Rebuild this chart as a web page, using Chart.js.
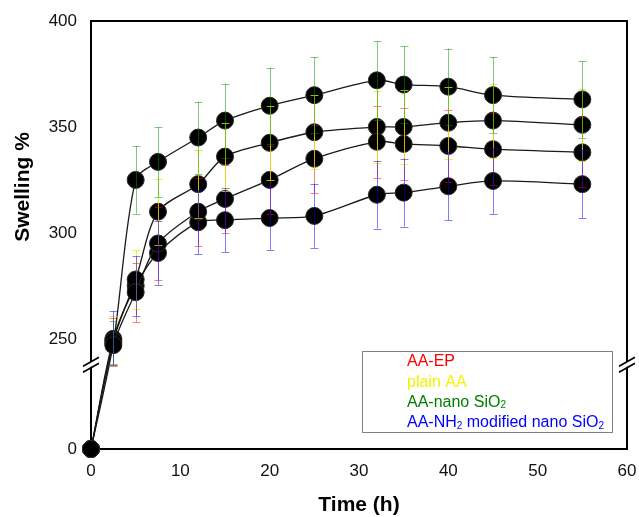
<!DOCTYPE html>
<html>
<head>
<meta charset="utf-8">
<script src="https://cdn.jsdelivr.net/npm/chart.js@4.4.1/dist/chart.umd.min.js"></script>
<style>
  html, body { margin: 0; padding: 0; background: #fff; }
  #wrap { width: 639px; height: 517px; }
</style>
</head>
<body>
<div id="wrap"><canvas id="swellChart" width="639" height="517"></canvas></div>
<script>
// time points (h)
const times = [0, 2.5, 5, 7.5, 12, 15, 20, 25, 32, 35, 40, 45, 55];

// swelling % for each sample
const aaEp = [0, 247, 272, 295, 310, 316, 325, 335, 343, 342, 341, 339.5, 338];
const aaEpErr = [0, 13, 14, 17, 16, 16, 16, 16, 17, 17, 17, 17, 16.5];

const plainAa = [0, 249, 278, 310, 323, 336, 342.5, 347.5, 350, 350, 352, 353, 351];
const plainAaErr = [0, 12, 14, 15.5, 16, 16, 17.5, 17.5, 17, 17.5, 17, 17.5, 17];

const nanoSio2 = [0, 248, 325, 333.5, 345, 353, 360, 365, 372, 370, 369, 365, 363];
const nanoSio2Err = [0, 10.5, 16, 16.5, 17, 17.5, 18, 18, 18.5, 18, 18, 18, 18];

const nh2Sio2 = [0, 250, 275, 290.5, 305, 306, 307, 308, 318, 319, 322, 324.5, 323];
const nh2Sio2Err = [0, 13, 14, 15, 15, 15, 15, 15, 16, 16, 16, 15.5, 16];

const seriesNames = ["AA-EP", "plain AA", "AA-nano SiO₂", "AA-NH₂ modified nano SiO₂"];
const seriesText = ["#ff0000", "#f2f200", "#008000", "#0000ff"];
const seriesBars = ["rgba(255,0,0,0.5)", "rgba(235,235,0,0.75)", "rgba(0,150,0,0.5)", "rgba(0,0,255,0.5)"];

const yTicks = [0, 250, 300, 350, 400];
const xTicks = [0, 10, 20, 30, 40, 50, 60];

// broken y axis: 0..BREAK_AT squeezed into the bottom BREAK_FRAC of the axis
const BREAK_AT = 238;
const BREAK_FRAC = 0.198;

class BrokenScale extends Chart.LinearScale {
  static id = "broken";
  static defaults = Chart.LinearScale.defaults;
  getPixelForValue(value) {
    let d;
    if (value < BREAK_AT) d = value / BREAK_AT * BREAK_FRAC;
    else d = BREAK_FRAC + (value - BREAK_AT) / (this.max - BREAK_AT) * (1 - BREAK_FRAC);
    return this.getPixelForDecimal(d);
  }
  getValueForPixel(pixel) {
    const d = this.getDecimalForPixel(pixel);
    if (d < BREAK_FRAC) return d / BREAK_FRAC * BREAK_AT;
    return BREAK_AT + (d - BREAK_FRAC) / (1 - BREAK_FRAC) * (this.max - BREAK_AT);
  }
}
Chart.register(BrokenScale);

const values = [aaEp, plainAa, nanoSio2, nh2Sio2];
const errors = [aaEpErr, plainAaErr, nanoSio2Err, nh2Sio2Err];

// error bars on top of the markers
const errorBars = {
  id: "errorBars",
  afterDatasetsDraw(chart) {
    const ctx = chart.ctx;
    const xs = chart.scales.x, ys = chart.scales.y;
    ctx.save();
    ctx.lineWidth = 1;
    values.forEach((vals, s) => {
      ctx.strokeStyle = seriesBars[s];
      vals.forEach((v, i) => {
        const e = errors[s][i];
        if (!e) return;
        const px = Math.round(xs.getPixelForValue(times[i])) + 0.5;
        const top = ys.getPixelForValue(v + e);
        const bot = ys.getPixelForValue(v - e);
        ctx.beginPath();
        ctx.moveTo(px, top); ctx.lineTo(px, bot);
        ctx.moveTo(px - 4, Math.round(top) + 0.5); ctx.lineTo(px + 4, Math.round(top) + 0.5);
        ctx.moveTo(px - 4, Math.round(bot) + 0.5); ctx.lineTo(px + 4, Math.round(bot) + 0.5);
        ctx.stroke();
      });
    });
    ctx.restore();
  }
};

function drawSubText(ctx, text, x, y, size) {
  const parts = text.split("₂");
  parts.forEach((p, k) => {
    ctx.font = size + "px 'Liberation Sans', Arial, sans-serif";
    ctx.fillText(p, x, y);
    x += ctx.measureText(p).width;
    if (k < parts.length - 1) {
      ctx.font = Math.round(size * 0.62) + "px 'Liberation Sans', Arial, sans-serif";
      ctx.fillText("2", x, y + 3);
      x += ctx.measureText("2").width;
    }
  });
}

// frame, axis break marks, legend and axis titles
const decorations = {
  id: "decorations",
  beforeDatasetsDraw(chart) {
    const {ctx, chartArea: a} = chart;
    ctx.save();
    ctx.strokeStyle = "#000";
    ctx.lineWidth = 2;
    ctx.strokeRect(a.left, a.top, a.right - a.left, a.bottom - a.top);
    ctx.restore();
  },
  afterDraw(chart) {
    const {ctx, chartArea: a} = chart;
    const ys = chart.scales.y;
    const by = ys.getPixelForValue(BREAK_AT) - 1;
    ctx.save();
    [a.left, a.right].forEach(ax => {
      ctx.fillStyle = "#fff";
      ctx.beginPath();
      ctx.moveTo(ax - 8, by + 3); ctx.lineTo(ax + 8, by - 6);
      ctx.lineTo(ax + 8, by - 1); ctx.lineTo(ax - 8, by + 8);
      ctx.closePath(); ctx.fill();
      ctx.strokeStyle = "#000";
      ctx.lineWidth = 1.6;
      ctx.beginPath();
      ctx.moveTo(ax - 8, by + 3); ctx.lineTo(ax + 8, by - 6);
      ctx.moveTo(ax - 8, by + 9); ctx.lineTo(ax + 8, by);
      ctx.stroke();
    });

    // legend box
    const lx = a.right - 265, ly = a.bottom - 98;
    ctx.strokeStyle = "#808080";
    ctx.lineWidth = 1;
    ctx.fillStyle = "#fff";
    ctx.fillRect(lx + 0.5, ly + 0.5, 250, 81);
    ctx.strokeRect(lx + 0.5, ly + 0.5, 250, 81);
    ctx.textBaseline = "middle";
    ctx.textAlign = "left";
    seriesNames.forEach((name, i) => {
      ctx.fillStyle = seriesText[i];
      drawSubText(ctx, name, lx + 45, ly + 11 + i * 20.3, 16);
    });

    // axis titles
    ctx.fillStyle = "#000";
    ctx.font = "bold 21px 'Liberation Sans', Arial, sans-serif";
    ctx.textAlign = "center";
    ctx.fillText("Time (h)", (a.left + a.right) / 2, 505);
    ctx.translate(23, 187);
    ctx.rotate(-Math.PI / 2);
    ctx.fillText("Swelling %", 0, 0);
    ctx.restore();
  }
};

new Chart(document.getElementById("swellChart"), {
  type: "line",
  data: {
    labels: times,
    datasets: values.map((vals, s) => ({
      label: seriesNames[s],
      data: vals.map((v, i) => ({x: times[i], y: v})),
      borderColor: "#1a1a1a",
      borderWidth: 1.3,
      backgroundColor: "#000",
      pointBackgroundColor: "#000",
      pointBorderColor: "#2a2a2a",
      pointBorderWidth: 1,
      pointRadius: 8.5,
      pointHoverRadius: 8.5,
      tension: 0.3,
      fill: false,
      clip: false
    }))
  },
  options: {
    responsive: false,
    animation: false,
    events: [],
    layout: { padding: { top: 21, right: 12, left: 0, bottom: 0 } },
    plugins: { legend: { display: false }, tooltip: { enabled: false } },
    scales: {
      x: {
        type: "linear",
        min: 0,
        max: 60,
        afterBuildTicks: s => { s.ticks = xTicks.map(v => ({value: v})); },
        afterFit: s => { s.height = 68; s.paddingLeft = 0; s.paddingRight = 0; },
        grid: { display: false, drawTicks: false },
        border: { display: false },
        ticks: { color: "#111", padding: 12, font: { size: 17, family: "'Liberation Sans', Arial, sans-serif" } }
      },
      y: {
        type: "broken",
        min: 0,
        max: 400,
        afterBuildTicks: s => { s.ticks = yTicks.map(v => ({value: v})); },
        afterFit: s => { s.width = 91; s.paddingTop = 0; s.paddingBottom = 0; },
        grid: { display: false, drawTicks: false },
        border: { display: false },
        ticks: { color: "#111", padding: 14, font: { size: 17, family: "'Liberation Sans', Arial, sans-serif" } }
      }
    }
  },
  plugins: [errorBars, decorations]
});
</script>
</body>
</html>
